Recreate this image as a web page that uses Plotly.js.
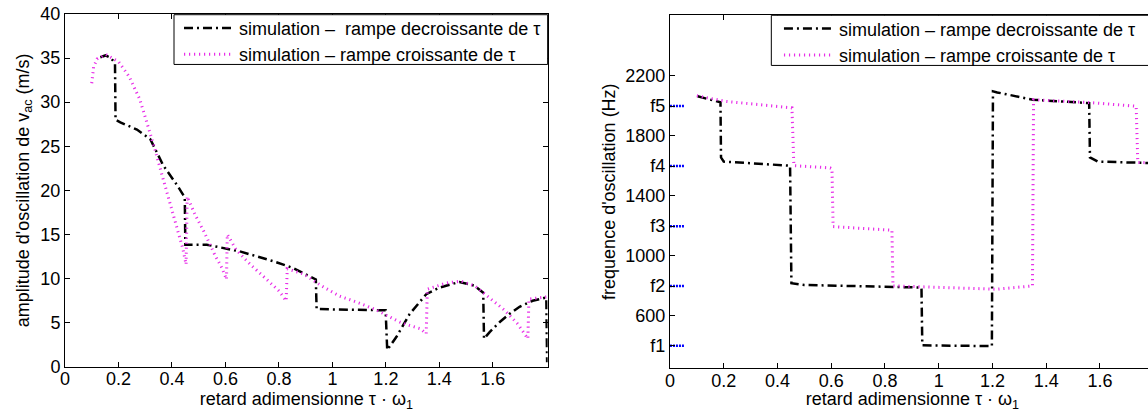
<!DOCTYPE html>
<html>
<head>
<meta charset="utf-8">
<script src="https://cdn.plot.ly/plotly-3.0.1.min.js"></script>
<style>
html,body{margin:0;padding:0;overflow:hidden;background:#fff;width:1148px;height:412px;}
#chart{width:1170px;height:412px;}
</style>
</head>
<body>
<div id="chart"></div>
<script>
// ---- Left chart: amplitude (m/s) vs tau*omega1 ----
const ampDecX = [0.132, 0.151, 0.172, 0.187, 0.189, 0.207, 0.269, 0.319, 0.368, 0.419, 0.448, 0.450, 0.53, 0.654, 0.778, 0.853, 0.938, 0.941, 1.0, 1.1, 1.199, 1.205, 1.239, 1.289, 1.351, 1.4, 1.475, 1.53, 1.556, 1.564, 1.567, 1.588, 1.627, 1.662, 1.7, 1.749, 1.8, 1.803];
const ampDecY = [35.1, 35.3, 35.0, 34.4, 28.0, 27.7, 26.9, 25.8, 22.8, 20.6, 19.2, 13.84, 13.84, 13.08, 11.97, 11.2, 9.9, 6.55, 6.5, 6.45, 6.4, 1.9, 3.37, 5.98, 8.23, 8.97, 9.61, 9.2, 8.6, 8.4, 3.18, 3.93, 5.1, 5.98, 6.8, 7.48, 7.85, 0.5];

const ampCroX = [0.1, 0.107, 0.12, 0.153, 0.2, 0.24, 0.28, 0.307, 0.333, 0.36, 0.387, 0.413, 0.44, 0.453, 0.457, 0.487, 0.52, 0.56, 0.587, 0.604, 0.607, 0.64, 0.693, 0.747, 0.8, 0.827, 0.831, 0.893, 0.96, 1.027, 1.093, 1.16, 1.208, 1.253, 1.289, 1.33, 1.351, 1.355, 1.427, 1.48, 1.533, 1.573, 1.643, 1.693, 1.731, 1.735, 1.804];
const ampCroY = [32.15, 34.0, 34.9, 35.4, 34.6, 32.9, 30.3, 27.7, 25.0, 22.05, 19.1, 16.1, 13.46, 11.6, 19.3, 17.2, 15.3, 12.7, 11.2, 9.9, 15.0, 13.27, 11.6, 10.1, 8.6, 7.48, 11.1, 10.5, 9.16, 8.0, 7.3, 6.5, 5.8, 5.05, 4.68, 4.3, 3.74, 8.79, 9.5, 9.7, 9.16, 8.2, 6.44, 4.86, 3.18, 7.67, 7.93];

// ---- Right chart: frequency (Hz) vs tau*omega1 ----
const freqDecX = [0.103, 0.188, 0.190, 0.2, 0.447, 0.452, 0.5, 0.833, 0.936, 0.939, 1.0, 1.198, 1.202, 1.218, 1.351, 1.56, 1.563, 1.593, 1.779, 1.805];
const freqDecY = [2060, 2020, 1653, 1625, 1598, 815, 803, 792, 786, 401, 399, 396, 2093, 2086, 2037, 2015, 1653, 1625, 1616, 1614];

const freqCroX = [0.1, 0.205, 0.454, 0.461, 0.596, 0.603, 0.607, 0.811, 0.826, 0.830, 1.014, 1.216, 1.349, 1.353, 1.553, 1.735, 1.741, 1.805];
const freqCroY = [2064, 2027, 1983, 1598, 1583, 1576, 1192, 1170, 1168, 797, 786, 775, 797, 2037, 2020, 1994, 1620, 1615];

// resonance frequencies shown on the frequency axis
const fLabels = ["f1", "f2", "f3", "f4", "f5"];
const fValues = [398, 796, 1195, 1595, 1995];
const freqTicks = [600, 1000, 1400, 1800, 2200];
const ampTicks = [0, 5, 10, 15, 20, 25, 30, 35, 40];
const xTicks = [0, 0.2, 0.4, 0.6, 0.8, 1, 1.2, 1.4, 1.6];

const nameDecL = "simulation \u2013\u00a0 rampe decroissante de \u03c4";
const nameCroL = "simulation \u2013 rampe croissante de \u03c4";
const nameDecR = "simulation \u2013 rampe decroissante de \u03c4";
const nameCroR = "simulation \u2013 rampe croissante de \u03c4";

// build short marker segments for f levels
const fSegX = [], fSegY = [];
fValues.forEach(v => { fSegX.push(0, 0.055, null); fSegY.push(v, v, null); });

// merge tick values/labels for frequency axis
const fTickPairs = fValues.map((v, i) => [v, fLabels[i]]).concat(freqTicks.map(v => [v, String(v)]));
fTickPairs.sort((a, b) => a[0] - b[0]);

const FONT = "Liberation Sans, Arial, Helvetica, sans-serif";
const FS = 18;
const decLine = {color: "#000000", width: 2.5, dash: "9px,4px,2px,4px"};
const croLine = {color: "#e830e8", width: 3, dash: "1.2px,3.8px"};

const traces = [
  {x: ampDecX, y: ampDecY, type: "scatter", mode: "lines", name: nameDecL, line: decLine, xaxis: "x", yaxis: "y", legend: "legend"},
  {x: ampCroX, y: ampCroY, type: "scatter", mode: "lines", name: nameCroL, line: croLine, xaxis: "x", yaxis: "y", legend: "legend"},
  {x: fSegX, y: fSegY, type: "scatter", mode: "lines", showlegend: false, line: {color: "#0000ff", width: 2.5, dash: "2px,1px"}, xaxis: "x2", yaxis: "y2", hoverinfo: "skip"},
  {x: freqDecX, y: freqDecY, type: "scatter", mode: "lines", name: nameDecR, line: decLine, xaxis: "x2", yaxis: "y2", legend: "legend2"},
  {x: freqCroX, y: freqCroY, type: "scatter", mode: "lines", name: nameCroR, line: croLine, xaxis: "x2", yaxis: "y2", legend: "legend2"}
];

const axBase = {
  showline: true, linecolor: "#000", linewidth: 1, mirror: "ticks",
  ticks: "inside", ticklen: 5, tickcolor: "#000", tickwidth: 1,
  showgrid: false, zeroline: false,
  tickfont: {family: FONT, size: FS, color: "#000"}
};

const xTitle = {text: "retard adimensionne \u03c4 \u00b7 \u03c9<sub>1</sub>", font: {family: FONT, size: FS, color: "#000"}, standoff: 4};

const legendFont = {family: FONT, size: FS, color: "#000"};

const layout = {
  width: 1170, height: 412,
  margin: {l: 65, r: 15, t: 10, b: 44},
  paper_bgcolor: "#fff", plot_bgcolor: "#fff",
  showlegend: true,
  xaxis: Object.assign({}, axBase, {domain: [0, 0.4428], range: [0, 1.805], tickvals: xTicks, title: xTitle, anchor: "y", ticklabelstandoff: -4}),
  yaxis: Object.assign({}, axBase, {domain: [0.0036, 1], range: [0, 40], tickvals: ampTicks, anchor: "x",
    title: {text: "amplitude d'oscillation de v<sub>ac</sub> (m/s)", font: {family: FONT, size: FS, color: "#000"}, standoff: 6}}),
  xaxis2: Object.assign({}, axBase, {domain: [0.555, 1], range: [0, 1.805], tickvals: xTicks, title: xTitle, anchor: "y2", ticklabelstandoff: -4}),
  yaxis2: Object.assign({}, axBase, {domain: [0, 0.9964], range: [250, 2600], anchor: "x2",
    tickvals: fTickPairs.map(p => p[0]), ticktext: fTickPairs.map(p => p[1]),
    title: {text: "frequence d'oscillation (Hz)", font: {family: FONT, size: FS, color: "#000"}, standoff: 4}}),
  legend: {x: 0.1046, xanchor: "left", y: 1.012, yanchor: "top", bgcolor: "rgba(0,0,0,0)", borderwidth: 0,
    font: legendFont, tracegroupgap: 0, itemwidth: 50},
  legend2: {x: 0.655, xanchor: "left", y: 1.0103, yanchor: "top", bgcolor: "rgba(0,0,0,0)", borderwidth: 0,
    font: legendFont, tracegroupgap: 0, itemwidth: 50},
  shapes: [
    {type: "rect", xref: "paper", yref: "paper", x0: 0.1, x1: 0.4428, y0: 0.8575, y1: 0.998, line: {color: "#000", width: 1}, fillcolor: "#fff", layer: "above"},
    {type: "rect", xref: "paper", yref: "paper", x0: 0.648, x1: 1.03, y0: 0.8547, y1: 0.9964, line: {color: "#000", width: 1}, fillcolor: "#fff", layer: "above"}
  ]
};

Plotly.newPlot("chart", traces, layout, {displayModeBar: false, staticPlot: true});
</script>
</body>
</html>
